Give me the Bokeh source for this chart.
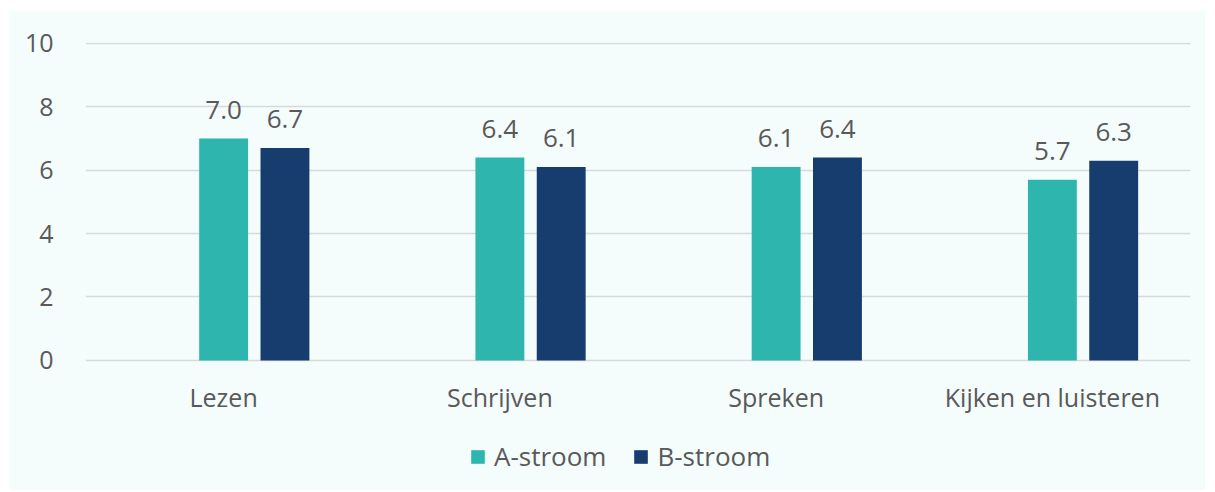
from bokeh.plotting import figure
from bokeh.models import (FactorRange, ColumnDataSource, LabelSet, Legend, LegendItem,
                          FixedTicker, Range1d)
from bokeh.transform import dodge
from bokeh.core.properties import value
from bokeh.embed import file_html
from bokeh.resources import INLINE

categories = ["Lezen", "Schrijven", "Spreken", "Kijken en luisteren"]
a_stroom = [7.0, 6.4, 6.1, 5.7]
b_stroom = [6.7, 6.1, 6.4, 6.3]
y_ticks = [0, 2, 4, 6, 8, 10]
series_names = ["A-stroom", "B-stroom"]

FONT = "Open Sans"
TXT = "#595959"
BG = "#f4fcfc"
TEAL = "#2eb6ae"
NAVY = "#163d6e"
A_OFF = 0.0
B_OFF = 0.222

src = ColumnDataSource(dict(
    cat=categories, a=a_stroom, b=b_stroom, base=[0] * len(categories),
    a_lbl=[f"{v:.1f}" for v in a_stroom],
    b_lbl=[f"{v:.1f}" for v in b_stroom],
))

# frame extends below zero so the category labels and legend live inside it
p = figure(x_range=FactorRange(factors=categories, range_padding=0),
           y_range=Range1d(-3.79, 10.03),
           width=1196, height=480, output_backend="svg", toolbar_location=None,
           background_fill_color=BG, border_fill_color=BG, outline_line_color=None)
p.margin = (10, 0, 0, 9)
p.min_border_left = 76
p.min_border_right = 15
p.min_border_top = 32
p.min_border_bottom = 10

ra = p.vbar(x=dodge("cat", A_OFF, range=p.x_range), top="a", width=0.177, source=src,
            fill_color=TEAL, line_color=None)
rb = p.vbar(x=dodge("cat", B_OFF, range=p.x_range), top="b", width=0.177, source=src,
            fill_color=NAVY, line_color=None)

for col, lbl, off in (("a", "a_lbl", A_OFF), ("b", "b_lbl", B_OFF)):
    p.add_layout(LabelSet(x=dodge("cat", off, range=p.x_range), y=col, text=lbl, source=src,
                          y_offset=20, text_align="center", text_baseline="alphabetic",
                          text_font=value(FONT), text_font_size="26px", text_color=TXT))

# category labels under the baseline
p.add_layout(LabelSet(x="cat", y="base", text="cat", source=src, y_offset=-37,
                      text_align="center", text_baseline="middle",
                      text_font=value(FONT), text_font_size="25px", text_color=TXT))

p.xaxis.visible = False
p.yaxis.ticker = FixedTicker(ticks=y_ticks)
ax = p.yaxis[0]
ax.axis_line_color = None
ax.major_tick_line_color = None
ax.minor_tick_line_color = None
ax.major_label_text_font = FONT
ax.major_label_text_color = TXT
ax.major_label_text_font_size = "25px"
ax.major_label_standoff = 26

p.xgrid.grid_line_color = None
p.ygrid.grid_line_color = "#d9d9d9"
p.ygrid.grid_line_width = 1.5

legend = Legend(items=[LegendItem(label=series_names[0], renderers=[ra]),
                       LegendItem(label=series_names[1], renderers=[rb])],
                location=(384, 6), orientation="horizontal",
                background_fill_alpha=0, border_line_color=None,
                label_text_font=FONT, label_text_font_size="26px", label_text_color=TXT,
                glyph_width=17, glyph_height=17, label_standoff=8, spacing=26,
                padding=0, margin=0)
p.add_layout(legend, "center")

open("out.html", "w").write(file_html(p, INLINE))
